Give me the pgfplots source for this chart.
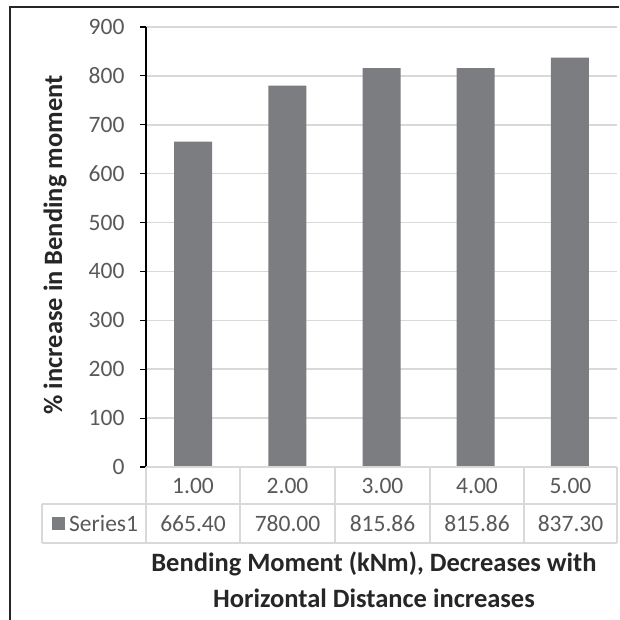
\documentclass[border=0pt]{standalone}
\usepackage{fontspec}
\setmainfont{Carlito}
\usepackage{pgfplots}
\pgfplotsset{compat=1.18}
\definecolor{barc}{RGB}{124,125,129}
\definecolor{gridc}{RGB}{217,217,217}
\definecolor{tickc}{RGB}{89,89,89}
\definecolor{titc}{RGB}{38,38,38}
\begin{document}
\begin{tikzpicture}[x=1pt,y=1pt]
\path[use as bounding box] (0,0) rectangle (619,620);
\draw[line width=2pt, black!85] (10,0) -- (10,613) -- (619,613);
\begin{axis}[
  at={(146pt,153pt)}, anchor=south west,
  width=471pt, height=440pt, scale only axis,
  xmin=0.5, xmax=5.5, ymin=0, ymax=900,
  ytick={0,100,...,900},
  xtick=\empty,
  axis x line=none,
  axis y line*=left,
  y axis line style={black, line width=1.2pt},
  ymajorgrids, grid style={gridc, line width=1.5pt},
  tick align=outside, major tick length=6pt,
  ytick style={black, line width=1.2pt},
  yticklabel style={font=\fontsize{23.5}{27}\selectfont, text=tickc, xshift=-12pt},
  /pgf/number format/assume math mode=true,
  ybar, bar width=38pt,
  clip=false,
]
\addplot[fill=barc, draw=none] coordinates {(1,665.40) (2,780.00) (3,815.86) (4,815.86) (5,837.30)};
\end{axis}
% data table grid
\begin{scope}[gridc, line width=1.5pt]
\draw (146,153) -- (617,153);
\draw (42,116) -- (617,116);
\draw (42,77) -- (617,77);
\draw (42,116) -- (42,77);
\foreach \x in {146,240,335,430,524,617} \draw (\x,153) -- (\x,77);
\end{scope}
\begin{scope}[font=\fontsize{23.5}{27}\selectfont, text=tickc]
\foreach \x/\c/\v in {193/1.00/665.40, 287.5/2.00/780.00, 382.5/3.00/815.86, 477/4.00/815.86, 570.5/5.00/837.30}{
  \node at (\x,134) {\c};
  \node at (\x,96) {\v};
}
\fill[barc] (52,90) rectangle (65,103);
\node[anchor=west, inner sep=0pt] at (69,96) {Series1};
\end{scope}
\begin{scope}[font=\fontsize{26.5}{30}\selectfont\bfseries, text=titc]
\node at (374,56) {Bending Moment (kNm), Decreases with};
\node at (374,22) {Horizontal Distance increases};
\node[rotate=90] at (55,375) {\% increase in Bending moment};
\end{scope}
\end{tikzpicture}
\end{document}
